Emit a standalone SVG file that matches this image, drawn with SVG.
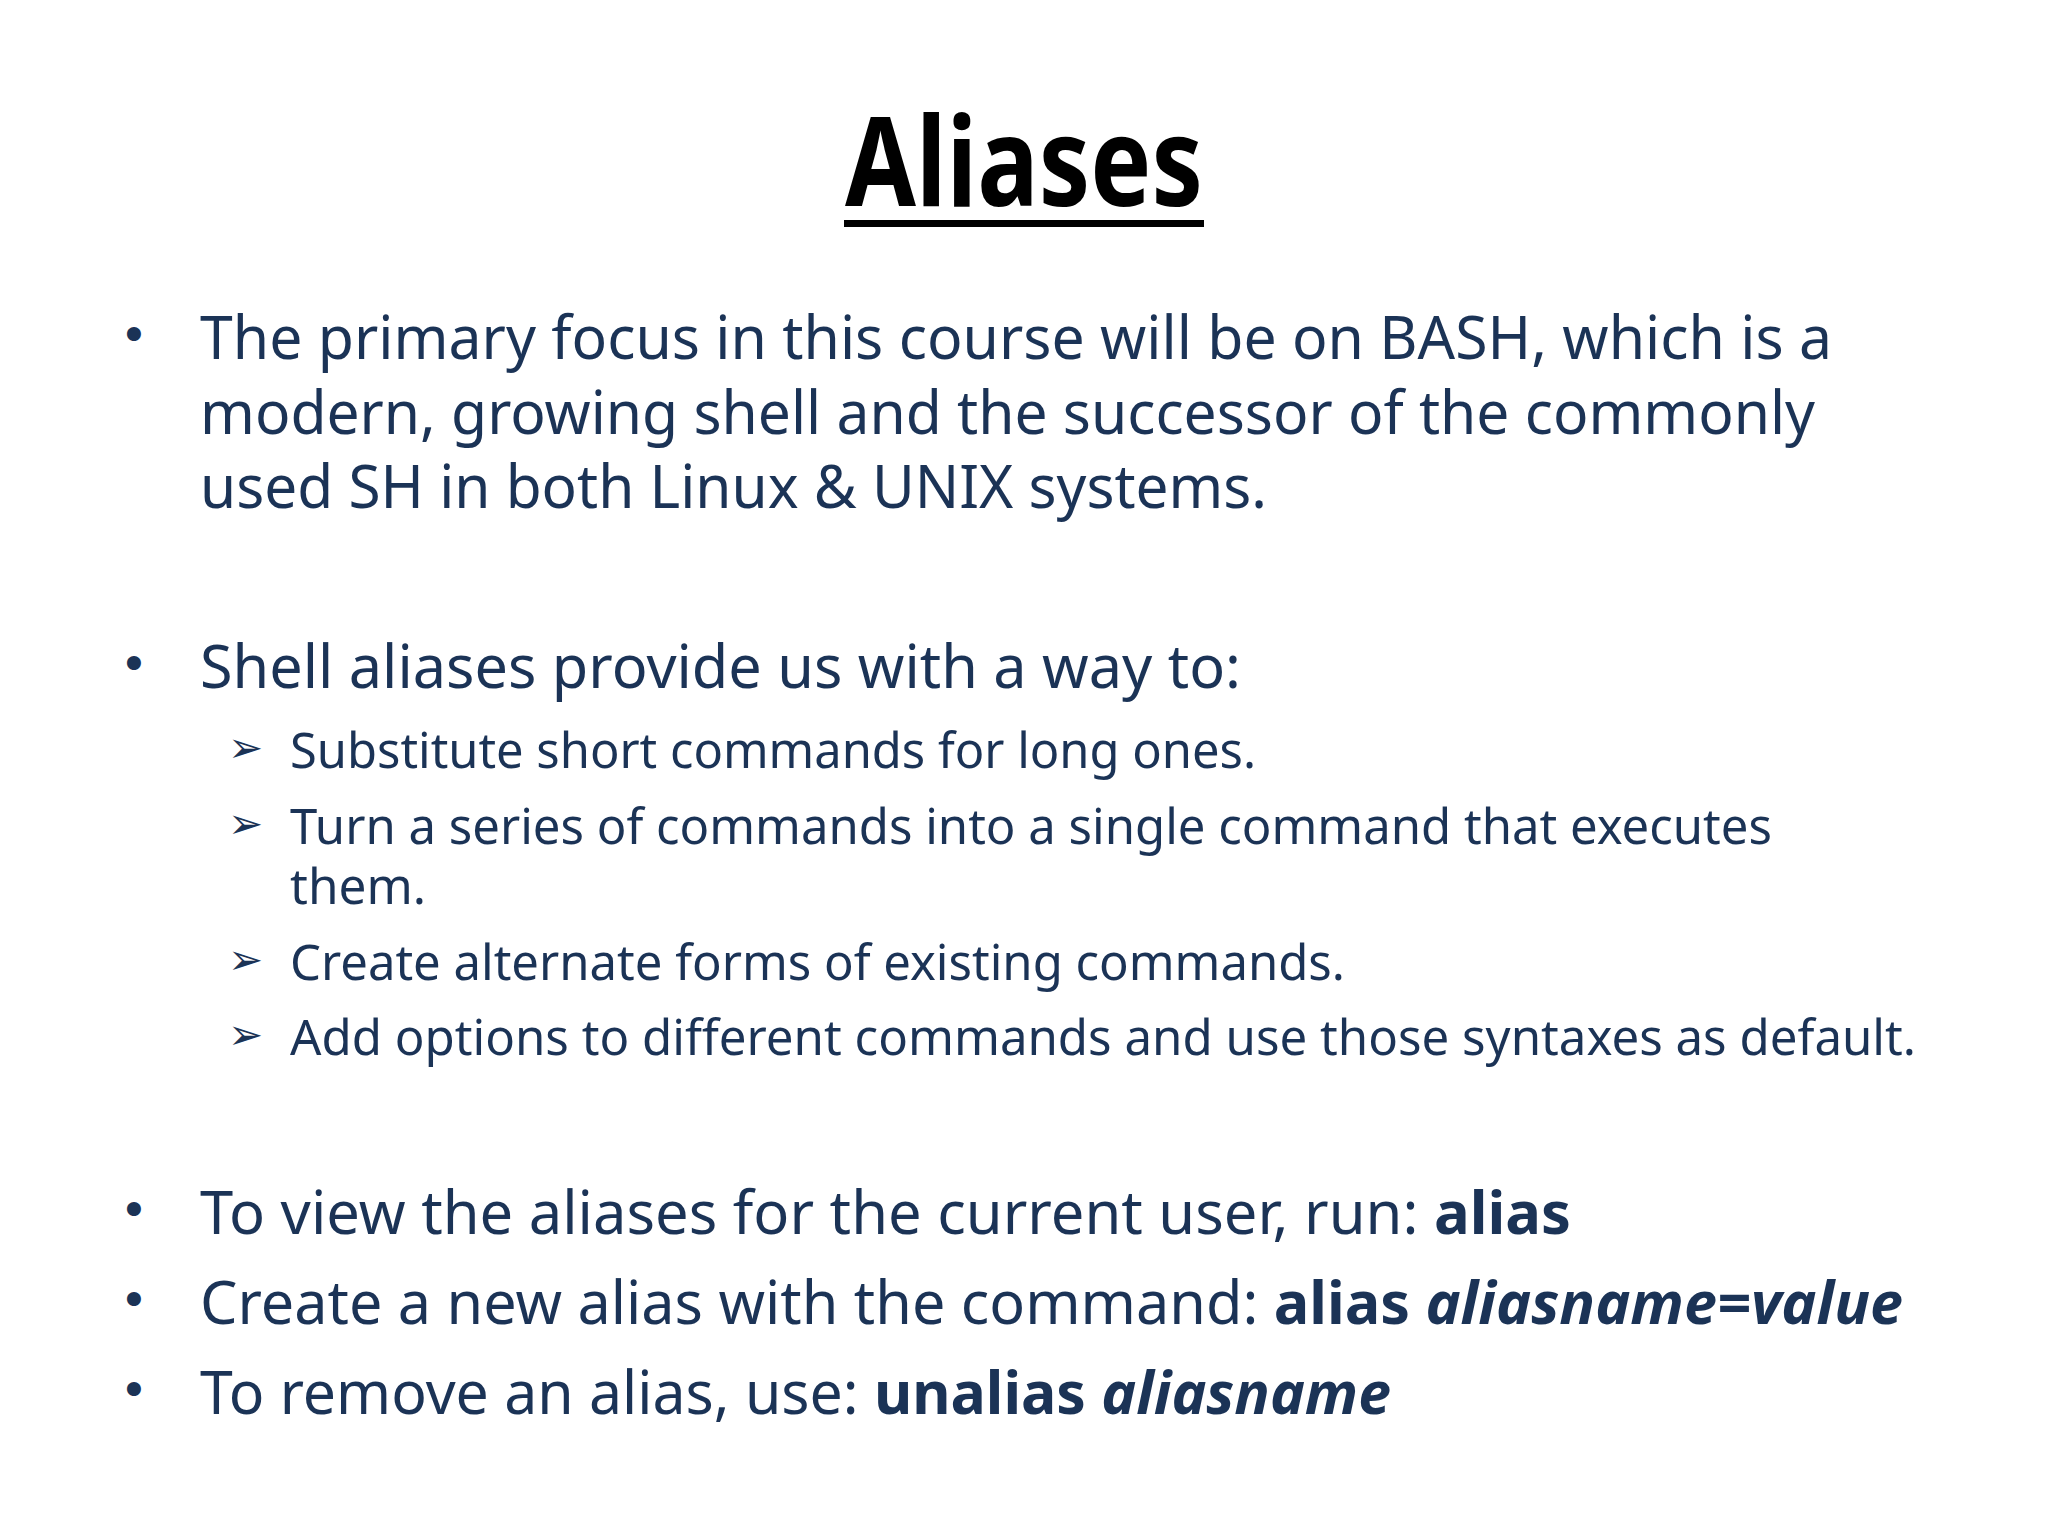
<svg xmlns="http://www.w3.org/2000/svg" width="2048" height="1536" viewBox="0 0 2048 1536">
<style>
.t{font-family:"Noto Sans","Open Sans",sans-serif;fill:#1b3356;font-size:60px}
.s{font-family:"Noto Sans","Open Sans",sans-serif;fill:#1b3356;font-size:49px}
.b{font-family:"DejaVu Sans",sans-serif;fill:#1b3356;font-size:48px}
.a{font-family:"DejaVu Sans",sans-serif;fill:#1b3356;font-size:42px}
.bd{font-weight:bold}
</style>
<rect width="2048" height="1536" fill="#ffffff"/>
<g id="title">
<text x="1024" y="206" text-anchor="middle" font-family="'Noto Sans','Open Sans',sans-serif" font-weight="bold" font-size="124" fill="#000" textLength="358" lengthAdjust="spacingAndGlyphs">Aliases</text>
<rect x="844" y="220" width="360" height="7" fill="#000"/>
</g>
<g id="bullet1">
<text class="b" x="134" y="352" text-anchor="middle">•</text>
<text class="t" x="200" y="359" textLength="1632" lengthAdjust="spacingAndGlyphs">The primary focus in this course will be on BASH, which is a</text>
<text class="t" x="200" y="434" textLength="1615" lengthAdjust="spacingAndGlyphs">modern, growing shell and the successor of the commonly</text>
<text class="t" x="200" y="508" textLength="1067" lengthAdjust="spacingAndGlyphs">used SH in both Linux &amp; UNIX systems.</text>
</g>
<g id="bullet2">
<text class="b" x="134" y="681" text-anchor="middle">•</text>
<text class="t" x="200" y="688" textLength="1041" lengthAdjust="spacingAndGlyphs">Shell aliases provide us with a way to:</text>
<text class="a" x="228" y="762">➢</text>
<text class="s" x="290" y="768" textLength="966" lengthAdjust="spacingAndGlyphs">Substitute short commands for long ones.</text>
<text class="a" x="228" y="838">➢</text>
<text class="s" x="290" y="844" textLength="1482" lengthAdjust="spacingAndGlyphs">Turn a series of commands into a single command that executes</text>
<text class="s" x="290" y="904" textLength="136" lengthAdjust="spacingAndGlyphs">them.</text>
<text class="a" x="228" y="974">➢</text>
<text class="s" x="290" y="980" textLength="1055" lengthAdjust="spacingAndGlyphs">Create alternate forms of existing commands.</text>
<text class="a" x="228" y="1049">➢</text>
<text class="s" x="290" y="1055" textLength="1626" lengthAdjust="spacingAndGlyphs">Add options to different commands and use those syntaxes as default.</text>
</g>
<g id="bullet3">
<text class="b" x="134" y="1227" text-anchor="middle">•</text>
<text class="t" x="200" y="1234" textLength="1371" lengthAdjust="spacingAndGlyphs">To view the aliases for the current user, run: <tspan class="bd">alias</tspan></text>
</g>
<g id="bullet4">
<text class="b" x="134" y="1317" text-anchor="middle">•</text>
<text class="t" x="200" y="1324" textLength="1703" lengthAdjust="spacingAndGlyphs">Create a new alias with the command: <tspan class="bd">alias <tspan font-style="italic">aliasname=value</tspan></tspan></text>
</g>
<g id="bullet5">
<text class="b" x="134" y="1407" text-anchor="middle">•</text>
<text class="t" x="200" y="1414" textLength="1191" lengthAdjust="spacingAndGlyphs">To remove an alias, use: <tspan class="bd">unalias <tspan font-style="italic">aliasname</tspan></tspan></text>
</g>
<g id="connectors"/>
</svg>
